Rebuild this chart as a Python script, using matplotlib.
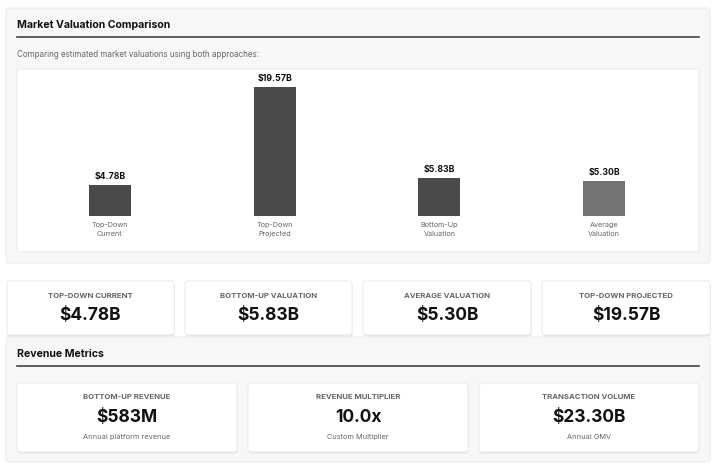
import matplotlib.pyplot as plt
from matplotlib.patches import FancyBboxPatch

# chart data
categories = ['Top-Down\nCurrent', 'Top-Down\nProjected', 'Bottom-Up\nValuation', 'Average\nValuation']
valuations = [4.78, 19.57, 5.83, 5.30]

# metric cards
top_labels = ['TOP-DOWN CURRENT', 'BOTTOM-UP VALUATION', 'AVERAGE VALUATION', 'TOP-DOWN PROJECTED']
top_values = ['$4.78B', '$5.83B', '$5.30B', '$19.57B']
rev_labels = ['BOTTOM-UP REVENUE', 'REVENUE MULTIPLIER', 'TRANSACTION VOLUME']
rev_values = ['$583M', '10.0x', '$23.30B']
rev_notes = ['Annual platform revenue', 'Custom Multiplier', 'Annual GMV']

plt.rcParams['font.family'] = ['Inter', 'DejaVu Sans']

W, H = 720, 474
fig = plt.figure(figsize=(W / 100, H / 100), dpi=100)
fig.patch.set_facecolor('white')

bg = fig.add_axes([0, 0, 1, 1])
bg.set_xlim(0, W)
bg.set_ylim(H, 0)
bg.axis('off')


def box(x0, y0, x1, y1, fc, ec, r=3, z=1, shadow=False):
    if shadow:
        bg.add_patch(FancyBboxPatch((x0 + 0.5, y0 + 1.5), x1 - x0, y1 - y0,
                                    boxstyle=f'round,pad=0,rounding_size={r}',
                                    fc='#e4e4e4', ec='none', zorder=z - 0.1))
    bg.add_patch(FancyBboxPatch((x0, y0), x1 - x0, y1 - y0,
                                boxstyle=f'round,pad=0,rounding_size={r}',
                                fc=fc, ec=ec, lw=0.8, zorder=z))


# panel 1
box(6, 8, 710, 263, '#f7f7f7', '#ececec')
bg.text(17, 25, 'Market Valuation Comparison', fontsize=7.6, fontweight='bold',
        color='#111111', va='center', zorder=3)
bg.plot([17, 699], [37, 37], color='#444444', lw=1.2, zorder=3)
bg.text(17, 54, 'Comparing estimated market valuations using both approaches:',
        fontsize=5.8, color='#666666', va='center', zorder=3)
box(17, 69, 699, 252, 'white', '#ebebeb', r=2, z=2)

# cards row
card_x = [(7, 174), (185, 352), (363, 531), (542, 710)]
for (x0, x1), lab, val in zip(card_x, top_labels, top_values):
    box(x0, 281, x1, 335, 'white', '#ececec', z=2, shadow=True)
    cx = (x0 + x1) / 2
    bg.text(cx, 296, lab, fontsize=5.6, fontweight='bold', color='#666666',
            ha='center', va='center', zorder=3)
    bg.text(cx, 316, val, fontsize=12.5, fontweight='bold', color='#111111',
            ha='center', va='center', zorder=3)

# panel 2
box(6, 337, 710, 462, '#f7f7f7', '#ececec')
bg.text(17, 354, 'Revenue Metrics', fontsize=7.6, fontweight='bold',
        color='#111111', va='center', zorder=3)
bg.plot([17, 699], [366, 366], color='#444444', lw=1.2, zorder=3)

rev_x = [(17, 237), (248, 468), (479, 699)]
for (x0, x1), lab, val, note in zip(rev_x, rev_labels, rev_values, rev_notes):
    box(x0, 383, x1, 452, 'white', '#ececec', z=2, shadow=True)
    cx = (x0 + x1) / 2
    bg.text(cx, 397, lab, fontsize=5.6, fontweight='bold', color='#666666',
            ha='center', va='center', zorder=3)
    bg.text(cx, 418, val, fontsize=12.5, fontweight='bold', color='#111111',
            ha='center', va='center', zorder=3)
    bg.text(cx, 437, note, fontsize=5.3, color='#666666',
            ha='center', va='center', zorder=3)

# bar chart inside the white box
ax = fig.add_axes([18 / W, 1 - 251 / H, 680 / W, 181 / H])
ax.patch.set_alpha(0)
for s in ax.spines.values():
    s.set_visible(False)
ax.set_xticks([])
ax.set_yticks([])

px_per_b = 6.65
x = list(range(len(valuations)))
colors = ['#4a4a4a', '#4a4a4a', '#4a4a4a', '#747474']
ax.bar(x, valuations, width=0.255, color=colors)
ax.set_xlim(-0.558, 3.57)
ax.set_ylim(-35 / px_per_b, 147 / px_per_b)

for xi, v, c in zip(x, valuations, categories):
    ax.annotate(f'${v:.2f}B', (xi, v), xytext=(0, 4), textcoords='offset pixels',
                ha='center', va='bottom', fontsize=6.3, fontweight='bold', color='#111111')
    ax.annotate(c, (xi, 0), xytext=(0, -6), textcoords='offset pixels',
                ha='center', va='top', fontsize=5.2, color='#666666', linespacing=1.55)

fig.savefig('out.png', dpi=100, facecolor='white')
